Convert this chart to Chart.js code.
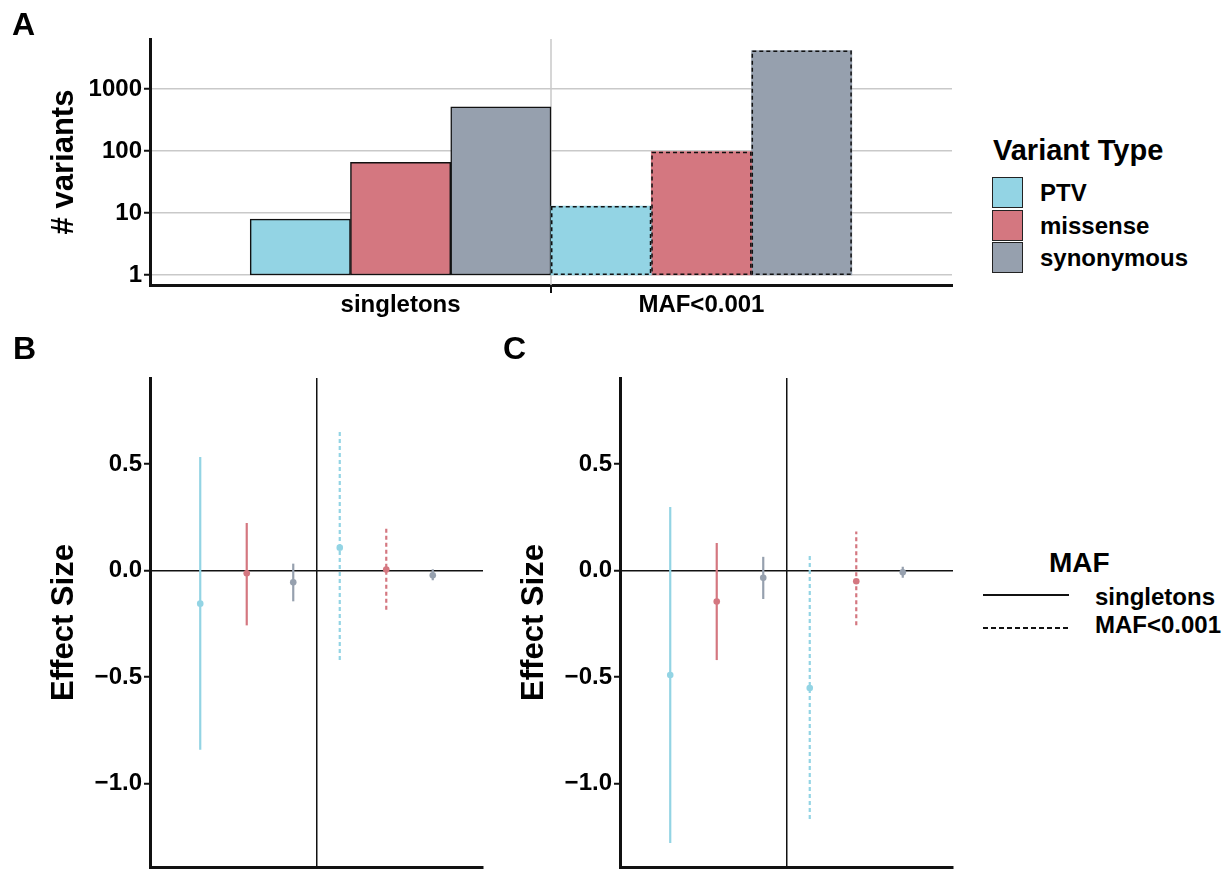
<!DOCTYPE html>
<html>
<head>
<meta charset="utf-8">
<script src="https://cdn.jsdelivr.net/npm/chart.js@4.4.0/dist/chart.umd.min.js"></script>
<style>
  body { margin: 0; background: #fff; }
  #page { position: relative; width: 1225px; height: 871px; overflow: hidden; font-family: "Liberation Sans", Arial, sans-serif; }
  canvas { position: absolute; }
  .lbl { position: absolute; font-weight: bold; color: #000; line-height: 1; white-space: nowrap; }
  .key { position: absolute; width: 31px; height: 31px; box-sizing: border-box; border: 1.5px solid #222; }
</style>
</head>
<body>
<div id="page">
  <canvas id="chartA" width="975" height="330" style="left:0;top:0"></canvas>
  <canvas id="chartB" width="490" height="531" style="left:0;top:340px"></canvas>
  <canvas id="chartC" width="490" height="531" style="left:470px;top:340px"></canvas>

  <div class="lbl" style="left:12px;top:8px;font-size:32px">A</div>
  <div class="lbl" style="left:13px;top:332px;font-size:32px">B</div>
  <div class="lbl" style="left:503px;top:332px;font-size:32px">C</div>

  <div class="lbl" style="left:993px;top:136px;font-size:29px">Variant Type</div>
  <div class="key" style="left:992px;top:177px;background:#93d4e4"></div>
  <div class="key" style="left:992px;top:209.5px;background:#d47780"></div>
  <div class="key" style="left:992px;top:242px;background:#96a0ae"></div>
  <div class="lbl" style="left:1040px;top:181px;font-size:24px">PTV</div>
  <div class="lbl" style="left:1040px;top:213.5px;font-size:24px">missense</div>
  <div class="lbl" style="left:1040px;top:246px;font-size:24px">synonymous</div>

  <div class="lbl" style="left:1049px;top:549px;font-size:28px">MAF</div>
  <div style="position:absolute;left:983px;top:594px;width:86px;height:1.5px;background:#111"></div>
  <div style="position:absolute;left:983px;top:627px;width:86px;height:1.5px;background:repeating-linear-gradient(to right,#111 0 5px,transparent 5px 8px)"></div>
  <div class="lbl" style="left:1095px;top:585px;font-size:24px">singletons</div>
  <div class="lbl" style="left:1095px;top:613px;font-size:24px">MAF&lt;0.001</div>
</div>
<script>
var groups = ['singletons', 'MAF<0.001'];
var variantTypes = ['PTV', 'missense', 'synonymous'];
var colors = ['#93d4e4', '#d47780', '#96a0ae'];

// panel A, number of variants
var countsPTV = [8, 13];
var countsMissense = [66, 98];
var countsSynonymous = [520, 4200];
var countTicks = [1, 10, 100, 1000];

// panel B, order: singletons PTV/missense/synonymous, then MAF<0.001
var estB = [-0.155, -0.012, -0.055, 0.108, 0.005, -0.022];
var lowB = [-0.841, -0.257, -0.144, -0.42, -0.184, -0.045];
var highB = [0.534, 0.224, 0.033, 0.658, 0.21, 0.008];

// panel C
var estC = [-0.49, -0.145, -0.033, -0.551, -0.05, -0.008];
var lowC = [-1.279, -0.42, -0.133, -1.166, -0.257, -0.033];
var highC = [0.299, 0.13, 0.065, 0.07, 0.184, 0.022];
var effectTicks = [0.5, 0, -0.5, -1.0];

var FONT = '"Liberation Sans", Arial, sans-serif';
Chart.defaults.font.family = FONT;
Chart.defaults.color = '#000';

function noPad(s) {
    s.paddingTop = 0; s.paddingBottom = 0; s.paddingLeft = 0; s.paddingRight = 0;
}

// gray divider between the two groups + small tick under the axis
var divider = {
    id: 'divider',
    beforeDatasetsDraw: function (chart) {
        var ctx = chart.ctx, area = chart.chartArea;
        var x = chart.scales.x.getPixelForValue(1.5);
        ctx.save();
        ctx.strokeStyle = '#c9c9c9';
        ctx.lineWidth = 1.5;
        ctx.beginPath();
        ctx.moveTo(x, area.top);
        ctx.lineTo(x, area.bottom);
        ctx.stroke();
        ctx.strokeStyle = '#111';
        ctx.lineWidth = 2;
        ctx.beginPath();
        ctx.moveTo(x, area.bottom);
        ctx.lineTo(x, area.bottom + 8);
        ctx.stroke();
        ctx.restore();
    }
};

// dashed outline for the MAF<0.001 bars
var dashedBars = {
    id: 'dashedBars',
    afterDatasetsDraw: function (chart) {
        var ctx = chart.ctx;
        ctx.save();
        ctx.setLineDash([4, 3]);
        ctx.lineWidth = 1.5;
        ctx.strokeStyle = '#111';
        chart.data.datasets.forEach(function (ds, k) {
            var p = chart.getDatasetMeta(k).data[1].getProps(['x', 'y', 'base', 'width'], true);
            ctx.strokeRect(p.x - p.width / 2 + 0.75, p.y + 0.75, p.width - 1.5, p.base - p.y - 1.5);
        });
        ctx.restore();
    }
};

var barData = [countsPTV, countsMissense, countsSynonymous].map(function (vals, k) {
    return {
        label: variantTypes[k],
        data: vals.map(function (v, i) { return { x: i + 1, y: [1, v] }; }),
        backgroundColor: colors[k],
        borderColor: '#111',
        borderWidth: function (c) { return c.dataIndex === 0 ? 1.5 : 0; },
        borderSkipped: false,
        categoryPercentage: 1,
        barPercentage: 1
    };
});

new Chart(document.getElementById('chartA'), {
    type: 'bar',
    data: { datasets: barData },
    options: {
        responsive: false,
        animation: false,
        events: [],
        layout: { padding: { top: 39, right: 23, left: 0, bottom: 0 } },
        plugins: { legend: { display: false }, tooltip: { enabled: false } },
        scales: {
            x: {
                type: 'linear', min: 0.167, max: 2.833, offset: false,
                afterBuildTicks: function (s) { s.ticks = [{ value: 1 }, { value: 2 }]; },
                ticks: {
                    callback: function (v) { return groups[v - 1]; },
                    font: { size: 24, weight: 'bold' }, color: '#000', padding: 6, maxRotation: 0
                },
                grid: { display: false, drawTicks: false, offset: false },
                border: { color: '#111', width: 3 },
                afterFit: function (s) { s.height = 45; noPad(s); }
            },
            y: {
                type: 'logarithmic', min: 0.689, max: 6460,
                afterBuildTicks: function (s) { s.ticks = countTicks.map(function (v) { return { value: v }; }); },
                ticks: {
                    callback: function (v) { return String(v); },
                    font: { size: 24, weight: 'bold' }, color: '#000', padding: 2
                },
                grid: { color: '#c9c9c9', lineWidth: 1.5, tickColor: '#111', tickLength: 6, tickWidth: 2 },
                border: { color: '#111', width: 3 },
                title: { display: true, text: '# variants', font: { size: 31, weight: 'bold' }, color: '#000', padding: { top: 46 } },
                afterFit: function (s) { s.width = 150; noPad(s); }
            }
        }
    },
    plugins: [divider, dashedBars]
});

function effectChart(id, est, low, high) {
    var datasets = est.map(function (e, i) {
        return {
            type: 'line',
            data: [{ x: i + 1, y: low[i] }, { x: i + 1, y: high[i] }],
            borderColor: colors[i % 3],
            borderWidth: 2.2,
            borderDash: i < 3 ? [] : [4, 3],
            pointRadius: 0,
            fill: false
        };
    });
    datasets.push({
        type: 'line',
        showLine: false,
        data: est.map(function (e, i) { return { x: i + 1, y: e }; }),
        pointBackgroundColor: est.map(function (e, i) { return colors[i % 3]; }),
        pointBorderWidth: 0,
        pointRadius: 3.3
    });

    new Chart(document.getElementById(id), {
        type: 'line',
        data: { datasets: datasets },
        options: {
            responsive: false,
            animation: false,
            events: [],
            layout: { padding: { top: 38, right: 7, left: 0, bottom: 0 } },
            plugins: { legend: { display: false }, tooltip: { enabled: false } },
            scales: {
                x: {
                    type: 'linear', min: -0.08, max: 7.08, offset: false,
                    afterBuildTicks: function (s) { s.ticks = [{ value: 3.5 }]; },
                    ticks: { display: false },
                    grid: { color: '#111', lineWidth: 1.5, drawTicks: false },
                    border: { color: '#111', width: 3 },
                    afterFit: function (s) { s.height = 3; noPad(s); }
                },
                y: {
                    type: 'linear', min: -1.392, max: 0.905,
                    afterBuildTicks: function (s) { s.ticks = effectTicks.map(function (v) { return { value: v }; }); },
                    ticks: {
                        callback: function (v) { return (v < 0 ? '\u2212' : '') + Math.abs(v).toFixed(1); },
                        font: { size: 24, weight: 'bold' }, color: '#000', padding: 2
                    },
                    grid: {
                        color: function (c) { return c.tick && c.tick.value === 0 ? '#111' : 'rgba(0,0,0,0)'; },
                        lineWidth: 1.5, tickColor: '#111', tickLength: 6, tickWidth: 2
                    },
                    border: { color: '#111', width: 3 },
                    title: { display: true, text: 'Effect Size', font: { size: 31, weight: 'bold' }, color: '#000', padding: { top: 46 } },
                    afterFit: function (s) { s.width = 150; noPad(s); }
                }
            }
        }
    });
}

effectChart('chartB', estB, lowB, highB);
effectChart('chartC', estC, lowC, highC);
</script>
</body>
</html>
